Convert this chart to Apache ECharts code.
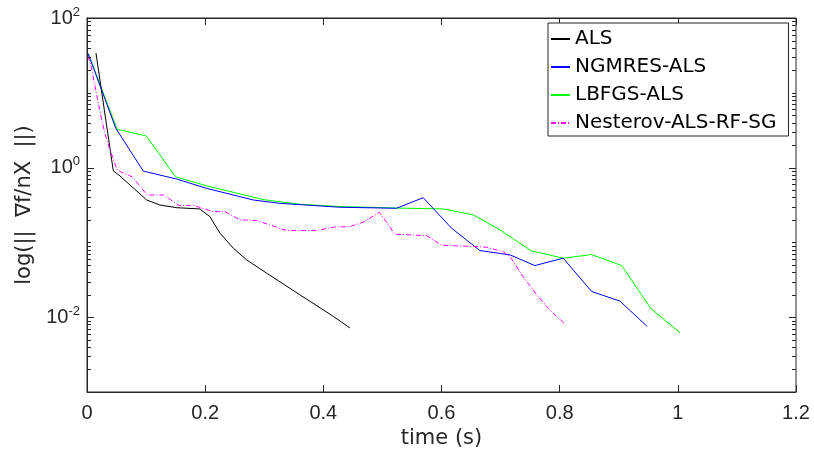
<!DOCTYPE html>
<html>
<head>
<meta charset="utf-8">
<script src="https://cdn.jsdelivr.net/npm/echarts@6/dist/echarts.min.js"></script>
<style>
html,body{margin:0;padding:0;background:#fff;}
#chart{width:814px;height:461px;}
</style>
</head>
<body>
<div id="chart"></div>
<script>
// ---- data ----
const seriesNames = ['ALS', 'NGMRES-ALS', 'LBFGS-ALS', 'Nesterov-ALS-RF-SG'];

const alsTime = [0.0152, 0.0445, 0.0541, 0.101, 0.1235, 0.1518, 0.191, 0.208, 0.225, 0.2475, 0.270, 0.304, 0.360, 0.417, 0.445];
const alsVal  = [33.9, 0.906, 0.794, 0.369, 0.316, 0.291, 0.280, 0.221, 0.133, 0.0838, 0.0585, 0.0388, 0.0200, 0.01025, 0.00718];

const ngmresTime = [0.002, 0.049, 0.0953, 0.1518, 0.2025, 0.2814, 0.3266, 0.428, 0.524, 0.569, 0.617, 0.665, 0.716, 0.758, 0.806, 0.854, 0.902, 0.948];
const ngmresVal  = [33.3, 3.33, 0.898, 0.703, 0.528, 0.369, 0.333, 0.295, 0.286, 0.396, 0.155, 0.0778, 0.0681, 0.049, 0.0615, 0.0221, 0.0164, 0.00754];

const lbfgsTime = [0.002, 0.0508, 0.1003, 0.150, 0.2025, 0.298, 0.360, 0.428, 0.524, 0.603, 0.654, 0.699, 0.752, 0.806, 0.854, 0.905, 0.955, 1.004];
const lbfgsVal  = [33.8, 3.26, 2.65, 0.753, 0.571, 0.374, 0.323, 0.302, 0.288, 0.280, 0.233, 0.147, 0.077, 0.0615, 0.0688, 0.049, 0.01285, 0.00621];

const nesterovTime = [0.0017, 0.0073, 0.0203, 0.0288, 0.0372, 0.0513, 0.057, 0.0766, 0.102, 0.130, 0.1557, 0.181, 0.195, 0.2137, 0.2335, 0.259, 0.287, 0.338, 0.389, 0.417, 0.445, 0.4675, 0.495, 0.521, 0.575, 0.600, 0.654, 0.676, 0.704, 0.716, 0.738, 0.761, 0.783, 0.809];
const nesterovVal  = [31.0, 22.1, 6.47, 3.16, 1.89, 0.926, 0.879, 0.753, 0.430, 0.430, 0.310, 0.313, 0.286, 0.258, 0.258, 0.200, 0.196, 0.144, 0.144, 0.160, 0.163, 0.186, 0.253, 0.129, 0.123, 0.0918, 0.088, 0.0863, 0.0754, 0.0647, 0.035, 0.020, 0.0126, 0.0081];

// ---- axis ticks ----
const xTickLabels = ['0', '0.2', '0.4', '0.6', '0.8', '1', '1.2'];
const yLabelExponents = [-2, 0, 2];
const yMajorTicks = [0.01, 1, 100];
const yMinorTicks = [
  0.002, 0.003, 0.004, 0.005, 0.006, 0.007, 0.008, 0.009,
  0.02, 0.03, 0.04, 0.05, 0.06, 0.07, 0.08, 0.09,
  0.1, 0.2, 0.3, 0.4, 0.5, 0.6, 0.7, 0.8, 0.9,
  2, 3, 4, 5, 6, 7, 8, 9,
  10, 20, 30, 40, 50, 60, 70, 80, 90
];

function zip(t, v) { return t.map((x, i) => [x, v[i]]); }

const axisColor = '#262626';
const fontFam = '"Liberation Sans", Arial, Helvetica, sans-serif';
const wideFam = '"DejaVu Sans", "Liberation Sans", sans-serif';

const tickData = yMajorTicks.map(v => [0, v, 1]).concat(yMinorTicks.map(v => [0, v, 0]));

const chart = echarts.init(document.getElementById('chart'), null, {renderer: 'canvas'});

const option = {
  animation: false,
  backgroundColor: '#fff',
  textStyle: {fontFamily: fontFam},
  grid: {left: 87, right: 18, top: 18, bottom: 69, show: true, borderColor: axisColor, borderWidth: 1, backgroundColor: 'transparent'},
  legend: {
    data: seriesNames,
    orient: 'vertical',
    left: 548,
    top: 23,
    itemWidth: 19,
    itemHeight: 20,
    itemGap: 8,
    padding: [6, 12, 3, 2],
    borderColor: axisColor,
    borderWidth: 1,
    borderRadius: 0,
    backgroundColor: '#fff',
    itemStyle: {opacity: 0},
    textStyle: {fontSize: 20, color: '#000', fontFamily: wideFam},
    inactiveColor: '#ccc'
  },
  xAxis: [{
    type: 'value', min: 0, max: 1.2, interval: 0.2,
    name: 'time (s)', nameLocation: 'middle', nameGap: 35,
    nameTextStyle: {fontSize: 21, color: axisColor, fontFamily: wideFam},
    axisLine: {show: true, lineStyle: {color: axisColor}},
    axisTick: {show: true, inside: true, length: 7, lineStyle: {color: axisColor}},
    axisLabel: {fontSize: 20, color: axisColor, margin: 11, fontFamily: fontFam,
      formatter: function (v) { return xTickLabels[Math.round(v / 0.2)]; }},
    splitLine: {show: false}
  }, {
    type: 'value', min: 0, max: 1.2, interval: 0.2, position: 'top',
    axisLine: {show: true, lineStyle: {color: axisColor}},
    axisTick: {show: true, inside: true, length: 7, lineStyle: {color: axisColor}},
    axisLabel: {show: false},
    splitLine: {show: false}
  }],
  yAxis: [{
    type: 'log', logBase: 10, min: 0.001, max: 100,
    name: 'log(||  ∇f/nX  ||)', nameLocation: 'middle', nameGap: 52,
    nameTextStyle: {fontSize: 21, color: axisColor, fontFamily: wideFam},
    axisLine: {show: true, lineStyle: {color: axisColor}},
    axisTick: {show: false},
    axisLabel: {
      margin: 7, color: axisColor, fontFamily: fontFam,
      formatter: function (v) {
        const e = Math.round(Math.log10(v));
        if (yLabelExponents.indexOf(e) < 0) return '';
        return '{b|10}{s|' + e + '}';
      },
      rich: {
        b: {fontSize: 20, color: axisColor, fontFamily: fontFam},
        s: {fontSize: 13, color: axisColor, fontFamily: fontFam, verticalAlign: 'top', padding: [0, 0, 12, 0]}
      }
    },
    splitLine: {show: false},
    minorTick: {show: false}
  }, {
    type: 'log', logBase: 10, min: 0.001, max: 100, position: 'right',
    axisLine: {show: true, lineStyle: {color: axisColor}},
    axisTick: {show: false},
    axisLabel: {show: false},
    splitLine: {show: false}
  }],
  series: [
    {name: seriesNames[0], type: 'line', data: zip(alsTime, alsVal), symbol: 'none',
      lineStyle: {color: '#000000', width: 1}, itemStyle: {color: '#000000'}, z: 3},
    {name: seriesNames[1], type: 'line', data: zip(ngmresTime, ngmresVal), symbol: 'none',
      lineStyle: {color: '#0000ff', width: 1}, itemStyle: {color: '#0000ff'}, z: 3},
    {name: seriesNames[2], type: 'line', data: zip(lbfgsTime, lbfgsVal), symbol: 'none',
      lineStyle: {color: '#00ff00', width: 1}, itemStyle: {color: '#00ff00'}, z: 2},
    {name: seriesNames[3], type: 'line', data: zip(nesterovTime, nesterovVal), symbol: 'none',
      lineStyle: {color: '#ff00ff', width: 1, type: [5, 2, 1, 2]}, itemStyle: {color: '#ff00ff'}, z: 4},
    {
      name: 'yticks', type: 'custom', data: tickData, silent: true, clip: false, z: 10,
      encode: {x: 0, y: 1},
      renderItem: function (params, api) {
        const p = api.coord([0, api.value(1)]);
        const len = api.value(2) ? 7 : 4;
        const xl = params.coordSys.x;
        const xr = xl + params.coordSys.width;
        const y = Math.round(p[1]) + 0.5;
        return {type: 'group', children: [
          {type: 'line', shape: {x1: xl, y1: y, x2: xl + len, y2: y}, style: {stroke: axisColor, lineWidth: 1}},
          {type: 'line', shape: {x1: xr - len, y1: y, x2: xr, y2: y}, style: {stroke: axisColor, lineWidth: 1}}
        ]};
      }
    }
  ]
};
chart.setOption(option);
</script>
</body>
</html>
